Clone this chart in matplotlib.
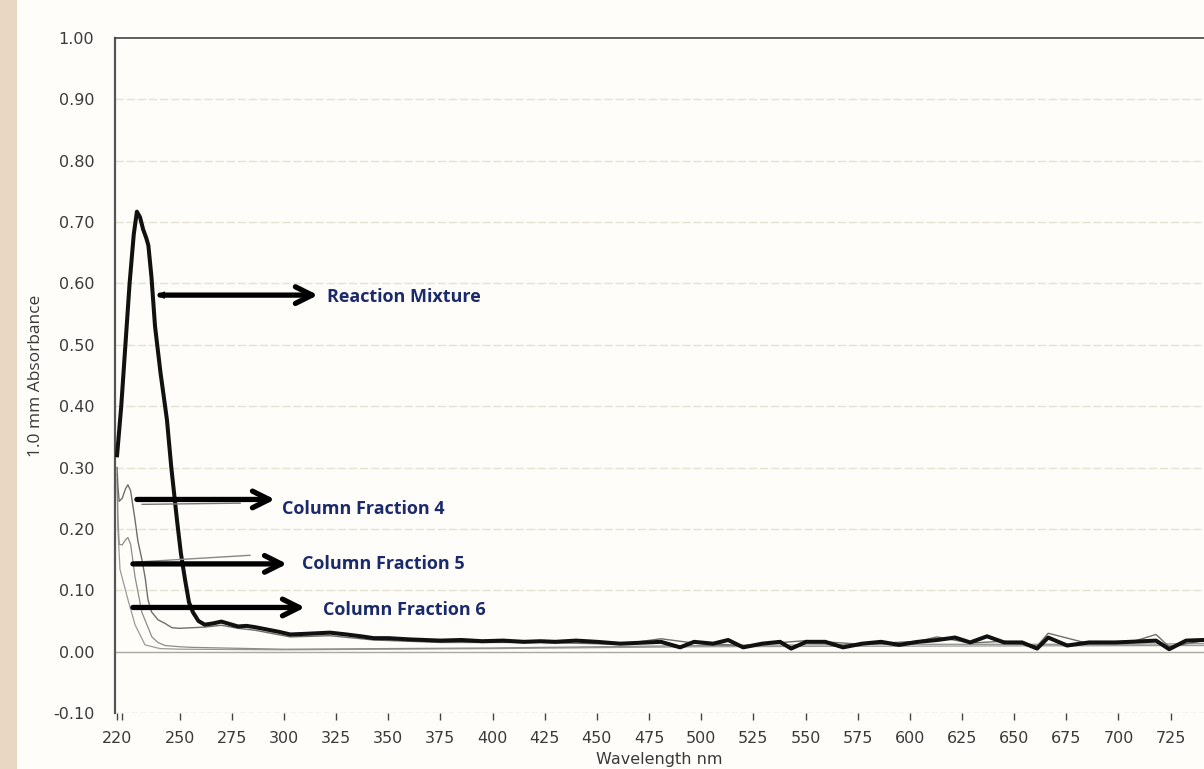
import numpy as np
import matplotlib.pyplot as plt
from matplotlib.patches import Rectangle

# UV-Vis spectra (wavelength nm, absorbance)
mix_nm = [220.0, 222.0, 224.0, 226.0, 228.0, 229.5, 231.0, 232.5, 234.0, 235.0,
          236.5, 238.2, 240.8, 243.9, 246.0, 248.7, 250.6, 252.6, 254.5, 256.4,
          259.0, 262.0, 266.0, 270.0, 274.0, 278.0, 282.0, 286.0, 292.0, 298.0,
          303.0, 310.0, 316.0, 322.0, 330.0, 337.0, 343.0, 350.0, 360.0, 375.0,
          385.0, 395.0, 405.0, 415.0, 423.0, 430.0, 440.0, 450.0, 461.1, 480.7,
          489.9, 496.6, 505.7, 512.9, 520.1, 529.2, 537.8, 543.1, 550.3, 559.4,
          568.0, 577.1, 586.2, 594.8, 603.9, 613.1, 621.7, 628.9, 637.0, 645.2,
          653.8, 661.0, 666.3, 675.4, 685.9, 698.4, 705.6, 718.0, 724.3, 732.4,
          741.0]
mix_abs = [0.320, 0.400, 0.500, 0.600, 0.680, 0.717, 0.708, 0.688, 0.674, 0.662,
           0.610, 0.530, 0.455, 0.378, 0.300, 0.215, 0.160, 0.117, 0.080, 0.064,
           0.050, 0.044, 0.046, 0.049, 0.045, 0.041, 0.042, 0.040, 0.036, 0.032,
           0.028, 0.029, 0.030, 0.031, 0.028, 0.025, 0.022, 0.022, 0.020, 0.018,
           0.019, 0.017, 0.018, 0.016, 0.017, 0.016, 0.018, 0.016, 0.013, 0.016,
           0.007, 0.016, 0.013, 0.019, 0.007, 0.013, 0.016, 0.005, 0.016, 0.016,
           0.007, 0.013, 0.016, 0.011, 0.016, 0.019, 0.023, 0.015, 0.025, 0.015,
           0.015, 0.005, 0.023, 0.010, 0.015, 0.015, 0.016, 0.018, 0.004, 0.018,
           0.019]

f4_nm = [220.0, 220.4, 221.0, 222.5, 224.0, 225.2, 226.5, 228.6, 230.0, 231.9,
         233.5, 234.8, 236.5, 239.6, 243.0, 246.3, 250.0, 255.9, 262.0, 270.0,
         278.0, 286.0, 303.0, 322.0, 343.0, 375.0, 423.0, 461.1, 480.7, 496.6,
         520.1, 550.3, 577.1, 603.9, 613.1, 628.9, 645.2, 661.0, 666.3, 685.9,
         705.6, 718.0, 724.3, 741.0]
f4_abs = [0.300, 0.270, 0.245, 0.250, 0.265, 0.272, 0.262, 0.215, 0.180, 0.150,
          0.120, 0.085, 0.065, 0.052, 0.046, 0.039, 0.038, 0.039, 0.040, 0.043,
          0.038, 0.035, 0.024, 0.026, 0.019, 0.015, 0.015, 0.012, 0.021, 0.014,
          0.010, 0.018, 0.012, 0.017, 0.024, 0.014, 0.017, 0.009, 0.030, 0.013,
          0.015, 0.028, 0.008, 0.018]

f5_nm = [220.0, 220.4, 221.0, 222.5, 224.0, 225.2, 226.5, 228.6, 231.9, 236.7,
         239.6, 243.0, 250.0, 256.0, 270.0, 300.0, 350.0, 400.0, 450.0, 500.0,
         550.0, 600.0, 650.0, 700.0, 741.0]
f5_abs = [0.290, 0.220, 0.175, 0.174, 0.182, 0.186, 0.175, 0.122, 0.064, 0.024,
          0.015, 0.010, 0.008, 0.007, 0.006, 0.004, 0.005, 0.006, 0.008, 0.010,
          0.011, 0.012, 0.012, 0.012, 0.013]

f6_nm = [220.0, 220.4, 221.4, 225.2, 228.6, 233.4, 240.6, 250.0, 300.0, 400.0,
         500.0, 600.0, 741.0]
f6_abs = [0.280, 0.200, 0.134, 0.085, 0.044, 0.011, 0.005, 0.004, 0.003, 0.005,
          0.008, 0.009, 0.010]

x_ticks = [220, 250, 275, 300, 325, 350, 375, 400, 425, 450, 475, 500, 525,
           550, 575, 600, 625, 650, 675, 700, 725]
y_ticks = [-0.10, 0.00, 0.10, 0.20, 0.30, 0.40, 0.50, 0.60, 0.70, 0.80, 0.90, 1.00]

labels = ["Reaction Mixture", "Column Fraction 4", "Column Fraction 5", "Column Fraction 6"]

label_font = ["Open Sans", "DejaVu Sans"]
tick_font = ["DejaVu Sans"]

fig = plt.figure(figsize=(12.04, 7.69), dpi=100, facecolor="#fefdf9")
# scanned page edge on the left
fig.patches.append(Rectangle((0, 0), 0.014, 1, transform=fig.transFigure,
                             facecolor="#e9d7c3", edgecolor="none", zorder=0))

ax = fig.add_axes([0.0955, 0.0728, 0.9045, 0.8778])
ax.set_facecolor("none")

ax.set_xlim(219, 741)
ax.set_ylim(-0.10, 1.00)

# horizontal grid lines
for v in y_ticks[2:-1]:
    ax.axhline(v, color="#e6e2d2", lw=1.0, ls=(0, (6, 2)), zorder=1)
ax.axhline(0.0, color="#a9a9a0", lw=1.0, zorder=2)
ax.axhline(-0.10, color="#cfcfc6", lw=1.0, ls=(0, (4, 2)), zorder=1)

# spectra
ax.plot(f6_nm, f6_abs, color="#9a9a96", lw=0.9, zorder=3)
ax.plot(f5_nm, f5_abs, color="#8c8c88", lw=0.9, zorder=3)
ax.plot(f4_nm, f4_abs, color="#6e6e6a", lw=1.0, zorder=3)
ax.plot(mix_nm, mix_abs, color="#111111", lw=2.9, zorder=4)

# spines
for s in ["right", "bottom"]:
    ax.spines[s].set_visible(False)
ax.spines["left"].set_color("#555555")
ax.spines["left"].set_linewidth(1.6)
ax.spines["top"].set_color("#444444")
ax.spines["top"].set_linewidth(1.2)

ax.set_xticks(x_ticks)
ax.set_xticklabels([str(t) for t in x_ticks], fontfamily=tick_font,
                   fontsize=11.5, color="#3a3a3a")
ax.set_xticks([222.5], minor=True)
ax.tick_params(axis="x", which="both", direction="out", length=5, width=1,
               color="#444444", pad=8)
ax.set_yticks(y_ticks)
ax.set_yticklabels([f"{t:.2f}" for t in y_ticks], fontfamily=tick_font,
                   fontsize=11.5, color="#3a3a3a")
ax.tick_params(axis="y", length=0, pad=15)

ax.set_xlabel("Wavelength nm", fontfamily=tick_font, fontsize=11.5,
              color="#3a3a3a", labelpad=4)
ax.set_ylabel("1.0 mm Absorbance", fontfamily=label_font, fontsize=12.5,
              color="#3a3a3a", labelpad=6)

# hand-added arrow labels: (arrow tail nm, arrow head nm, y, text nm, text y)
arrow_tail = [240.6, 229.5, 227.6, 227.6]
arrow_head = [316.3, 295.7, 301.5, 310.1]
arrow_y = [0.581, 0.248, 0.143, 0.072]
text_x = [320.6, 299.1, 308.6, 318.7]
text_y = [0.578, 0.232, 0.143, 0.068]

for lab, x0, x1, yv, tx, ty in zip(labels, arrow_tail, arrow_head, arrow_y, text_x, text_y):
    ax.annotate("", xy=(x1, yv), xytext=(x0, yv),
                arrowprops=dict(arrowstyle="->", color="black", lw=3.8,
                                mutation_scale=30, shrinkA=0, shrinkB=0),
                zorder=6)
    ax.text(tx, ty, lab, fontfamily=label_font, fontweight="bold",
            fontsize=13, color="#1b2a6b", va="center", ha="left", zorder=6)

# small back arrowhead at the start of the reaction-mixture arrow
ax.annotate("", xy=(arrow_tail[0] - 1.5, arrow_y[0]), xytext=(arrow_tail[0] + 3, arrow_y[0]),
            arrowprops=dict(arrowstyle="->", color="black", lw=1.2,
                            mutation_scale=10, shrinkA=0, shrinkB=0), zorder=6)

# faint pencil strokes next to the fraction 4 and 5 arrows
ax.plot([232.0, 279.0], [0.240, 0.242], color="#777777", lw=1.0, zorder=5)
ax.plot([229.5, 283.7], [0.146, 0.157], color="#888888", lw=1.0, zorder=5)

fig.savefig("out.png", dpi=100, facecolor=fig.get_facecolor())
